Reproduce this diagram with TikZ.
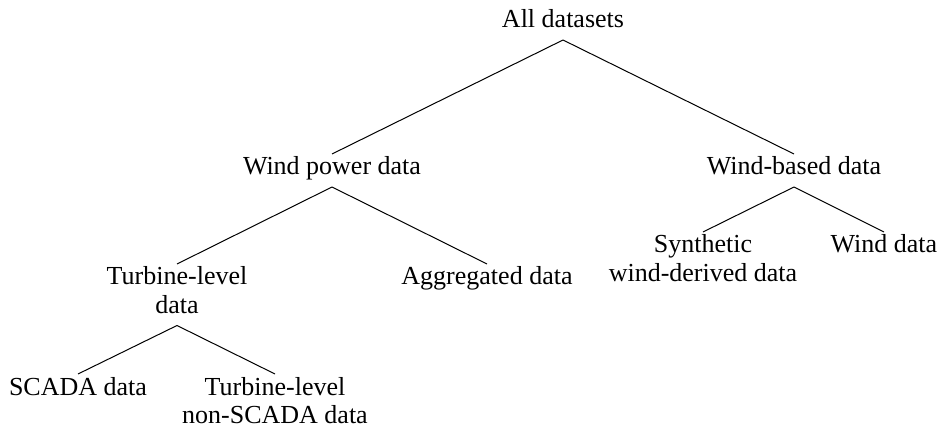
\documentclass[tikz,border=0pt]{standalone}
\usepackage{fontspec}
\setmainfont{Liberation Serif}
\newcommand\tstr{\rule{0pt}{10.5pt}}
\newcommand\bstr{\rule[-6pt]{0pt}{0pt}}
\begin{document}
\begin{tikzpicture}[x=0.5pt,y=-0.5pt,
  lbl/.style={inner sep=0pt,outer sep=0pt,anchor=north,align=center,
    font=\fontsize{13}{14.25}\selectfont},
  edge/.style={draw=black,line width=0.5pt}]
\useasboundingbox (0,0) rectangle (943,427);
\node[lbl] (all) at (563,7) {\tstr All datasets\bstr};
\node[lbl] (wp) at (332,154) {\tstr Wind power data\bstr};
\node[lbl] (wb) at (794,154) {\tstr Wind-based data\bstr};
\node[lbl] (tl) at (177,264) {\tstr Turbine-level\\data\bstr};
\node[lbl] (agg) at (487,264) {\tstr Aggregated data\bstr};
\node[lbl] (syn) at (703,232) {\tstr Synthetic\\wind-derived data\bstr};
\node[lbl] (wd) at (884,232) {\tstr Wind data\bstr};
\node[lbl] (scada) at (78,374) {\tstr SCADA data\bstr};
\node[lbl] (tln) at (275,374) {\tstr Turbine-level\\non-SCADA data\bstr};
\draw[edge] (all.south) -- (wp.north);
\draw[edge] (all.south) -- (wb.north);
\draw[edge] (wp.south) -- (tl.north);
\draw[edge] (wp.south) -- (agg.north);
\draw[edge] (wb.south) -- (syn.north);
\draw[edge] (wb.south) -- (wd.north);
\draw[edge] (tl.south) -- (scada.north);
\draw[edge] (tl.south) -- (tln.north);
\end{tikzpicture}
\end{document}
